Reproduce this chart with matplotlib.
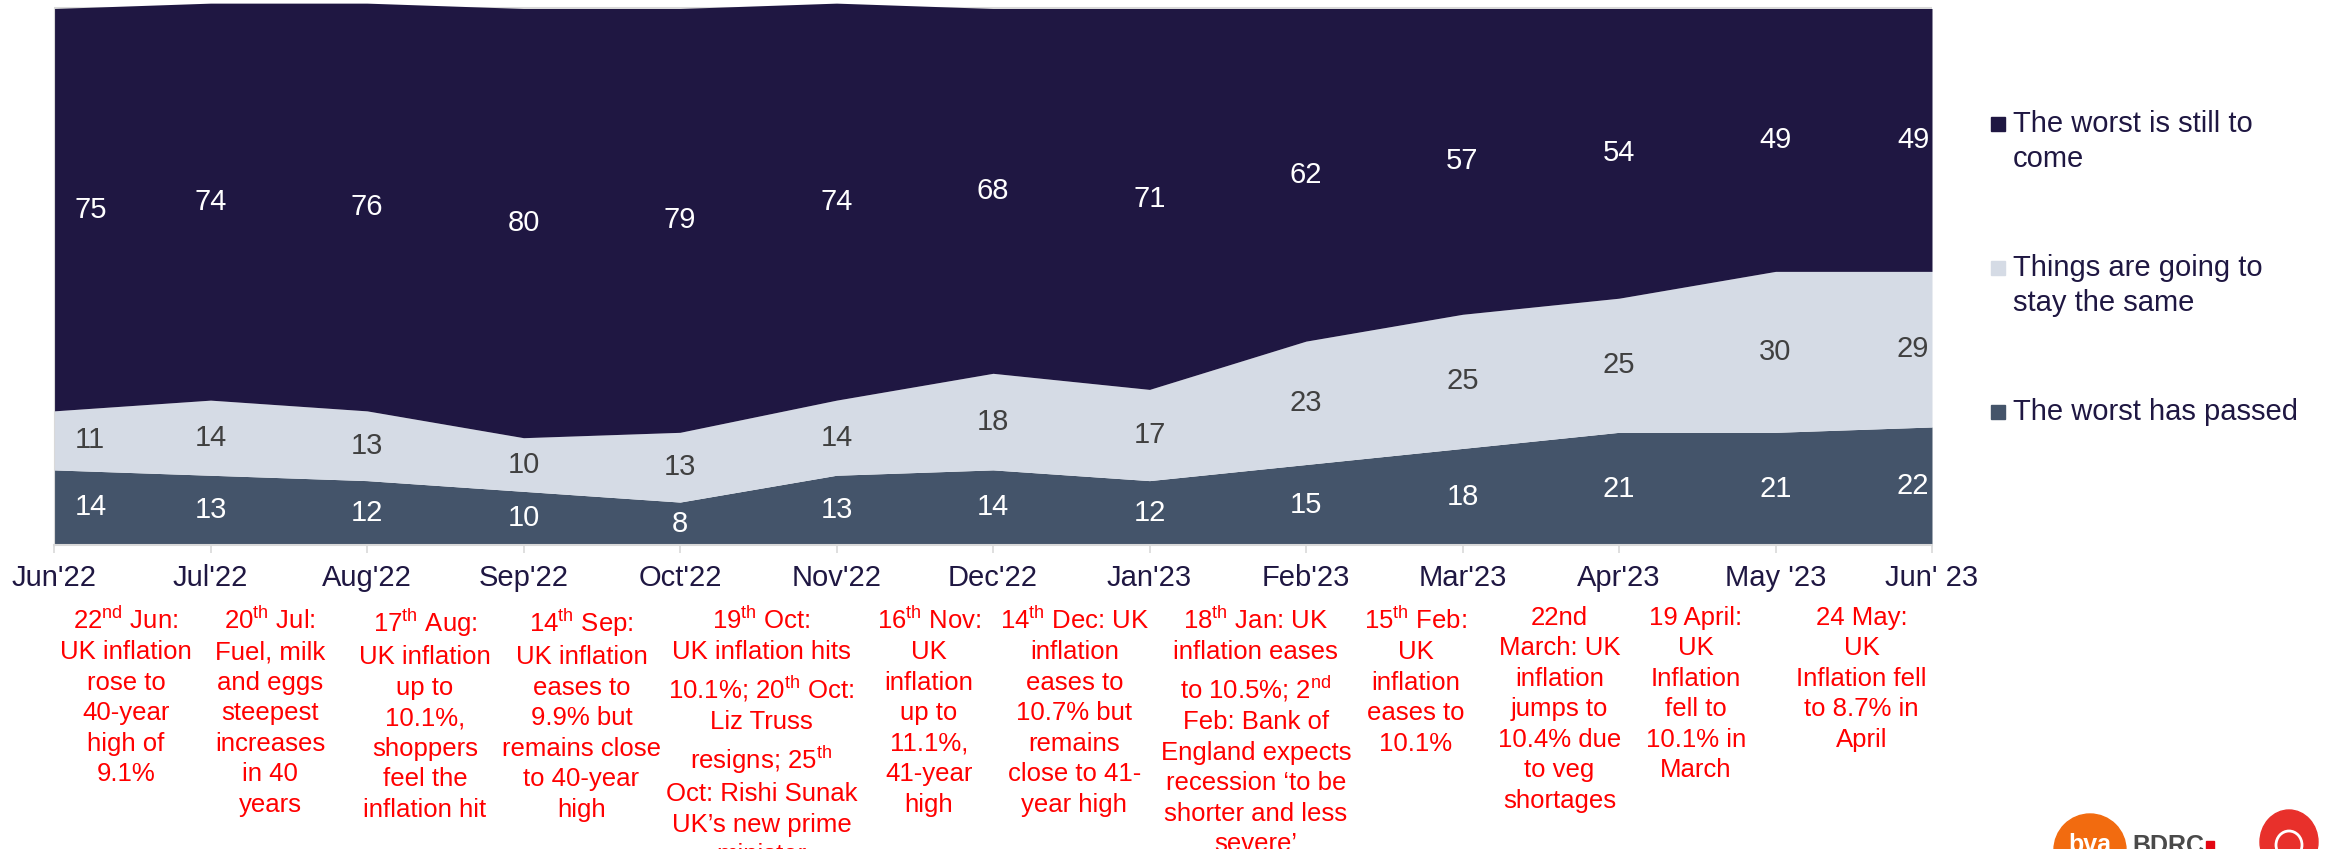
import matplotlib.pyplot as plt
from matplotlib.patches import Rectangle, Ellipse

plt.rcParams['font.family'] = ['Liberation Sans', 'DejaVu Sans']

# Data
months = ["Jun'22", "Jul'22", "Aug'22", "Sep'22", "Oct'22", "Nov'22", "Dec'22",
          "Jan'23", "Feb'23", "Mar'23", "Apr'23", "May '23", "Jun' 23"]
worst_passed = [14, 13, 12, 10, 8, 13, 14, 12, 15, 18, 21, 21, 22]
stay_same = [11, 14, 13, 10, 13, 14, 18, 17, 23, 25, 25, 30, 29]
still_to_come = [75, 74, 76, 80, 79, 74, 68, 71, 62, 57, 54, 49, 49]
series_names = ["The worst is still to\ncome", "Things are going to\nstay the same",
                "The worst has passed"]

sup = lambda s: r"$^{\mathregular{" + s + "}}$"
events = [
    "22" + sup("nd") + " Jun:\nUK inflation\nrose to\n40-year\nhigh of\n9.1%",
    "20" + sup("th") + " Jul:\nFuel, milk\nand eggs\nsteepest\nincreases\nin 40\nyears",
    "17" + sup("th") + " Aug:\nUK inflation\nup to\n10.1%,\nshoppers\nfeel the\ninflation hit",
    "14" + sup("th") + " Sep:\nUK inflation\neases to\n9.9% but\nremains close\nto 40-year\nhigh",
    "19" + sup("th") + " Oct:\nUK inflation hits\n10.1%; 20" + sup("th") + " Oct:\nLiz Truss\nresigns; 25"
    + sup("th") + "\nOct: Rishi Sunak\nUK\u2019s new prime\nminister",
    "16" + sup("th") + " Nov:\nUK\ninflation\nup to\n11.1%,\n41-year\nhigh",
    "14" + sup("th") + " Dec: UK\ninflation\neases to\n10.7% but\nremains\nclose to 41-\nyear high",
    "18" + sup("th") + " Jan: UK\ninflation eases\nto 10.5%; 2" + sup("nd")
    + "\nFeb: Bank of\nEngland expects\nrecession \u2018to be\nshorter and less\nsevere\u2019",
    "15" + sup("th") + " Feb:\nUK\ninflation\neases to\n10.1%",
    "22nd\nMarch: UK\ninflation\njumps to\n10.4% due\nto veg\nshortages",
    "19 April:\nUK\nInflation\nfell to\n10.1% in\nMarch",
    "24 May:\nUK\nInflation fell\nto 8.7% in\nApril",
]
# small sideways nudges of the note boxes (in month steps), as placed on the slide
event_nudge = [-0.04, -0.12, -0.13, -0.13, 0.02, 0.09, 0.02, 0.18, 0.2, 0.12, -0.01, 0.05]

NAVY = '#1F1742'
LIGHT = '#D5DBE5'
SLATE = '#44546A'
GRID = '#D9D9D9'

W_PX, H_PX = 2329, 849
fig = plt.figure(figsize=(W_PX / 100, H_PX / 100), dpi=100)


def fx(x):
    return x / W_PX


def fy(y):
    return 1 - y / H_PX


ax = fig.add_axes([fx(54), fy(545), fx(1932) - fx(54), fy(0.45) - fy(545)])

x = list(range(len(months)))
lvl1 = worst_passed
lvl2 = [a + b for a, b in zip(worst_passed, stay_same)]
lvl3 = [a + b for a, b in zip(lvl2, still_to_come)]

ax.axhline(100, color=GRID, lw=1.5, zorder=0.5)
ax.fill_between(x, 0, lvl1, color=SLATE, lw=0, zorder=1)
ax.fill_between(x, lvl1, lvl2, color=LIGHT, lw=0, zorder=1)
ax.fill_between(x, lvl2, lvl3, color=NAVY, lw=0, zorder=1)

ax.set_xlim(0, len(months) - 1)
ax.set_ylim(0, 101.5)
ax.set_yticks([])
ax.set_xticks(x)
ax.set_xticklabels(months, fontsize=21, color=NAVY)
ax.tick_params(axis='x', length=6, width=1.2, color=GRID, pad=8)
for s in ['top', 'right']:
    ax.spines[s].set_visible(False)
ax.spines['left'].set_color(GRID)
ax.spines['left'].set_bounds(0, 100)
ax.spines['bottom'].set_color(GRID)
ax.spines['bottom'].set_linewidth(1.5)

# data labels, centred in each band
bands = [(worst_passed, [0] * len(x), 'white'),
         (stay_same, lvl1, '#404040'),
         (still_to_come, lvl2, 'white')]
for vals, base, col in bands:
    for i, v in enumerate(vals):
        ha, dx = 'center', 0
        if i == 0:
            ha, dx = 'left', 15
        elif i == len(x) - 1:
            ha, dx = 'right', -2
        ax.annotate(str(v), (i, base[i] + v / 2), xytext=(dx, 0),
                    textcoords='offset points', ha=ha, va='center',
                    fontsize=21, color=col)

# event notes under the axis
for i, txt in enumerate(events):
    xd = ax.transData.transform((i + 0.5 + event_nudge[i], 0))[0]
    fig.text(xd / W_PX, fy(606), txt, ha='center', va='top', fontsize=18.5,
             color='#FF0000', linespacing=1.34, multialignment='center')

# legend
legend_rows = [(series_names[0], NAVY, 124, 141.5),
               (series_names[1], LIGHT, 268, 285.5),
               (series_names[2], SLATE, 412, 412)]
for name, col, sq_y, txt_y in legend_rows:
    fig.add_artist(Rectangle((fx(1991), fy(sq_y + 7)), fx(14), 14 / H_PX,
                             transform=fig.transFigure, color=col))
    fig.text(fx(2013), fy(txt_y), name, ha='left', va='center', fontsize=21,
             color=NAVY, linespacing=1.3)

# logos (partly cut by the bottom edge)
fig.add_artist(Ellipse((fx(2090), fy(850)), fx(72), 72 / H_PX,
                       transform=fig.transFigure, color='#F26B0F'))
fig.text(fx(2090), fy(833), 'bva', ha='center', va='top', fontsize=18,
         color='white', fontweight='bold')
fig.text(fx(2132), fy(834), 'BDRC', ha='left', va='top', fontsize=18,
         color='#4A4A4A', fontweight='bold')
fig.add_artist(Rectangle((fx(2206), fy(849)), fx(8), 8 / H_PX,
                         transform=fig.transFigure, color='#E30613'))
fig.add_artist(Ellipse((fx(2289), fy(842)), fx(58), 64 / H_PX,
                       transform=fig.transFigure, color='#E8302B'))
fig.add_artist(Ellipse((fx(2289), fy(845)), fx(26), 28 / H_PX,
                       transform=fig.transFigure, facecolor='none',
                       edgecolor='white', lw=2))

fig.savefig('out.png', dpi=100)
